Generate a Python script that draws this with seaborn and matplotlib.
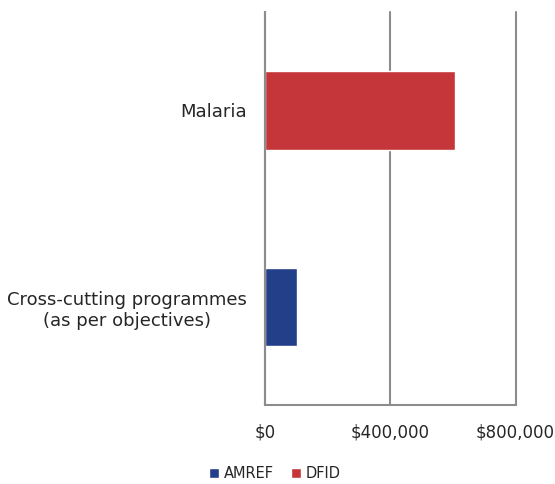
import matplotlib
matplotlib.use('Agg')
import matplotlib.pyplot as plt
from matplotlib.ticker import FuncFormatter, FixedLocator
import seaborn as sns
import pandas as pd

categories = ['Malaria', 'Cross-cutting programmes\n(as per objectives)']
funders = ['DFID', 'AMREF']
amounts = [608000, 102000]
legend_order = ['AMREF', 'DFID']
colors = {'AMREF': '#243F8A', 'DFID': '#C5363A'}
x_ticks = [0, 400000, 800000]

sns.set_style('white')
plt.rcParams['font.family'] = ['DejaVu Sans']

df = pd.DataFrame({'category': categories, 'funder': funders, 'amount': amounts})

fig = plt.figure(figsize=(5.55, 4.84), dpi=100)
ax = fig.add_axes([0.4775, 0.163, 0.4515, 0.812])

sns.barplot(data=df, x='amount', y='category', hue='funder', hue_order=legend_order,
            palette=colors, dodge=False, orient='h', width=0.4, saturation=1,
            ax=ax, legend=True)

grey = '#8C8C8C'
ax.set_xlim(0, 800000)
ax.set_ylim(1.5, -0.5)
ax.set_xticks(x_ticks)
ax.xaxis.set_major_formatter(FuncFormatter(lambda v, p: f'${v:,.0f}'))
ax.grid(axis='x', color=grey, linewidth=1.5)
ax.set_axisbelow(True)
for line in ax.get_xgridlines():
    line.set_clip_on(False)

# category tick marks sit on band edges
ax.yaxis.set_minor_locator(FixedLocator([-0.5, 0.5, 1.5]))
ax.tick_params(axis='y', which='major', length=0, labelsize=13, pad=13, colors='#262626')
ax.tick_params(axis='y', which='minor', length=4, width=1.5, color=grey, direction='out')
ax.tick_params(axis='x', length=5, width=1.5, color=grey, labelsize=12, pad=8, labelcolor='#262626')
for lbl in ax.get_yticklabels():
    lbl.set_multialignment('center')

for side in ['top', 'right']:
    ax.spines[side].set_visible(False)
for side in ['left', 'bottom']:
    ax.spines[side].set_color(grey)
    ax.spines[side].set_linewidth(1.5)

ax.set_xlabel('')
ax.set_ylabel('')

handles, labels = ax.get_legend_handles_labels()
ax.legend(handles, labels, loc='center', bbox_to_anchor=(0.495, 0.022),
          bbox_transform=fig.transFigure, ncol=2, frameon=False, fontsize=10.5,
          handlelength=0.7, handleheight=0.7, handletextpad=0.3, columnspacing=1.2,
          labelcolor='#262626')

fig.savefig('out.png', dpi=100)
